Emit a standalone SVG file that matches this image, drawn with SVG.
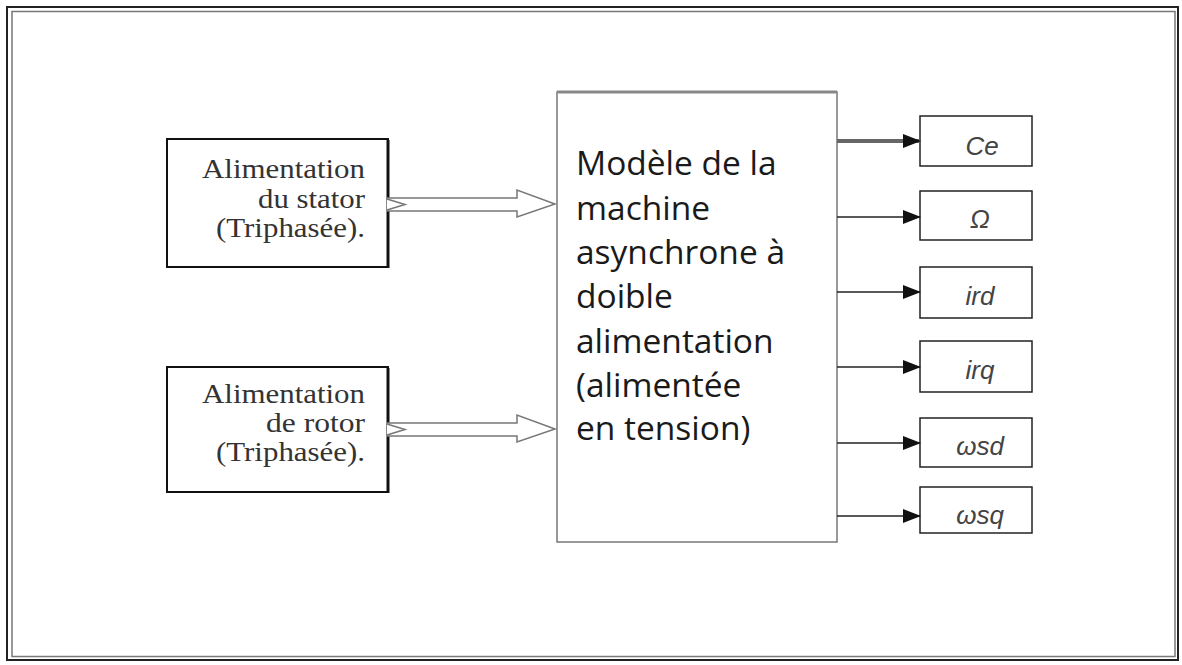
<svg xmlns="http://www.w3.org/2000/svg" width="1182" height="665" viewBox="0 0 1182 665">
<defs>
<style>
.frame{fill:none;stroke:#222;stroke-width:2}
.frame2{fill:none;stroke:#777;stroke-width:1.5}
.src{fill:#fff;stroke:#111;stroke-width:2}
.srct{font-family:"Liberation Serif","Times New Roman",serif;font-size:28px;fill:#333;text-anchor:end}
.main{fill:#fff;stroke:#777;stroke-width:1.5}
.maint{font-family:"Open Sans","Noto Sans",sans-serif;font-size:33.5px;fill:#1a1a1a}
.out{fill:#fff;stroke:#222;stroke-width:1.5}
.outt{font-family:"Liberation Sans",Arial,sans-serif;font-style:italic;font-size:26px;fill:#444;text-anchor:middle}
.hollow{fill:#fff;stroke:#777;stroke-width:1.5;stroke-linejoin:miter}
.link{stroke:#222;stroke-width:1.6;fill:none}
</style>
<marker id="ah" markerWidth="18" markerHeight="14" refX="17" refY="7" orient="auto" markerUnits="userSpaceOnUse">
<path d="M0,0 L18,7 L0,14 Z" fill="#111"/>
</marker>
</defs>
<rect width="1182" height="665" fill="#fff"/>
<rect class="frame" x="7" y="7" width="1171" height="653"/>
<rect class="frame2" x="12" y="11.5" width="1163" height="645"/>

<g id="stator">
<rect class="src" x="167" y="139" width="221" height="128"/>
<line x1="388" y1="140" x2="388" y2="268" stroke="#111" stroke-width="3"/>
<text class="srct" x="365" y="178" textLength="163" lengthAdjust="spacingAndGlyphs">Alimentation</text>
<text class="srct" x="365" y="208" textLength="107" lengthAdjust="spacingAndGlyphs">du stator</text>
<text class="srct" x="365" y="237" textLength="149" lengthAdjust="spacingAndGlyphs">(Triphasée).</text>
</g>

<g id="rotor">
<rect class="src" x="167" y="367" width="221" height="125"/>
<line x1="388" y1="368" x2="388" y2="493" stroke="#111" stroke-width="3"/>
<text class="srct" x="365" y="403" textLength="163" lengthAdjust="spacingAndGlyphs">Alimentation</text>
<text class="srct" x="365" y="432" textLength="99" lengthAdjust="spacingAndGlyphs">de rotor</text>
<text class="srct" x="365" y="461" textLength="149" lengthAdjust="spacingAndGlyphs">(Triphasée).</text>
</g>

<g id="model">
<rect class="main" x="557" y="92" width="280" height="450"/>
<line x1="557" y1="92" x2="837" y2="92" stroke="#888" stroke-width="3"/>
<text class="maint">
<tspan x="576" y="175">Modèle de la</tspan>
<tspan x="576" y="220">machine</tspan>
<tspan x="576" y="264">asynchrone à</tspan>
<tspan x="576" y="308">doible</tspan>
<tspan x="576" y="353">alimentation</tspan>
<tspan x="576" y="397">(alimentée</tspan>
<tspan x="576" y="440">en tension)</tspan>
</text>
</g>

<g id="out-ce"><rect class="out" x="920" y="116" width="112" height="50"/><text class="outt" x="982" y="155">Ce</text></g>
<g id="out-omega"><rect class="out" x="920" y="191" width="112" height="49"/><text class="outt" x="980" y="228">Ω</text></g>
<g id="out-ird"><rect class="out" x="920" y="267" width="112" height="51"/><text class="outt" x="980" y="305">ird</text></g>
<g id="out-irq"><rect class="out" x="920" y="341" width="112" height="51"/><text class="outt" x="980" y="379">irq</text></g>
<g id="out-wsd"><rect class="out" x="920" y="418" width="112" height="49"/><text class="outt" x="980" y="455">ωsd</text></g>
<g id="out-wsq"><rect class="out" x="920" y="487" width="112" height="46"/><text class="outt" x="980" y="524">ωsq</text></g>

<g id="connectors">
<path class="hollow" d="M387,198 L517,198 L517,190 L555,204 L517,217 L517,211 L387,211"/>
<path class="hollow" fill="none" d="M387,199 L405,204.5 L387,210"/>
<path class="hollow" d="M387,423 L517,423 L517,415 L555,429 L517,442 L517,436 L387,436"/>
<path class="hollow" fill="none" d="M387,424 L405,429.5 L387,435"/>
<line x1="837" y1="141" x2="920" y2="141" stroke="#666" stroke-width="4" marker-end="url(#ah)"/>
<line class="link" x1="837" y1="217" x2="920" y2="217" marker-end="url(#ah)"/>
<line class="link" x1="837" y1="292" x2="920" y2="292" marker-end="url(#ah)"/>
<line class="link" x1="837" y1="367" x2="920" y2="367" marker-end="url(#ah)"/>
<line class="link" x1="837" y1="443" x2="920" y2="443" marker-end="url(#ah)"/>
<line class="link" x1="837" y1="516" x2="920" y2="516" marker-end="url(#ah)"/>
</g>
</svg>
